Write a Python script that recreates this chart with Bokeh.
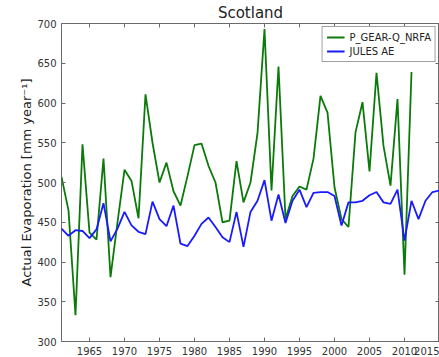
from bokeh.plotting import figure
from bokeh.models import ColumnDataSource, LinearAxis, FixedTicker, Range1d, Legend, LegendItem
from bokeh.embed import file_html
from bokeh.resources import INLINE

# Annual actual evaporation for Scotland (mm/year)
years_obs = list(range(1961, 2012))
p_gear_q_nrfa = [
    507, 465, 333, 548, 437, 428, 530, 381, 450, 516,
    502, 455, 611, 550, 500, 525, 489, 471, 508, 547,
    549, 521, 500, 450, 452, 527, 475, 500, 562, 693,
    490, 646, 454, 483, 495, 491, 530, 609, 588, 494,
    454, 444, 563, 601, 514, 638, 546, 496, 605, 384,
    639,
]

years_model = list(range(1961, 2016))
jules_ae = [
    442, 433, 440, 439, 430, 441, 474, 426, 442, 463,
    446, 438, 435, 476, 454, 445, 471, 423, 420, 433,
    448, 456, 444, 431, 425, 463, 419, 463, 477, 503,
    452, 485, 449, 477, 491, 469, 487, 488, 488, 483,
    446, 475, 475, 477, 484, 488, 475, 473, 491, 427,
    477, 454, 477, 488, 490,
]

x_ticks = [1965, 1970, 1975, 1980, 1985, 1990, 1995, 2000, 2005, 2010, 2015]
y_ticks = [300, 350, 400, 450, 500, 550, 600, 650, 700]

FONT = "DejaVu Sans"
EDGE = "#6a6a6a"

p = figure(
    width=439, height=357,
    output_backend="svg", toolbar_location=None,
    x_range=Range1d(1961, 2015), y_range=Range1d(300, 700),
    title="Scotland",
    min_border_left=61, min_border_right=0, min_border_top=0, min_border_bottom=0,
)

p.title.align = "center"
p.title.text_font = FONT
p.title.text_font_size = "15px"
p.title.text_font_style = "normal"
p.title.text_color = "#222222"
p.title.offset = 0
p.title.standoff = 3

p.outline_line_color = EDGE
p.outline_line_width = 1
p.grid.visible = False
p.background_fill_color = "white"
p.border_fill_color = "white"

src_obs = ColumnDataSource(dict(x=years_obs, y=p_gear_q_nrfa))
src_mod = ColumnDataSource(dict(x=years_model, y=jules_ae))

r_obs = p.line("x", "y", source=src_obs, line_color="#0a7a0a", line_width=1.8)
r_mod = p.line("x", "y", source=src_mod, line_color="#1a1aff", line_width=1.8)

for ax in (p.xaxis[0], p.yaxis[0]):
    ax.major_tick_in = 4
    ax.major_tick_out = 0
    ax.minor_tick_line_color = None
    ax.axis_line_color = None
    ax.major_tick_line_color = EDGE
    ax.major_label_text_font = FONT
    ax.major_label_text_font_size = "10px"
    ax.major_label_text_color = "#333333"

p.xaxis[0].ticker = FixedTicker(ticks=x_ticks)
p.yaxis[0].ticker = FixedTicker(ticks=y_ticks)
p.xaxis[0].major_label_standoff = 5
p.yaxis[0].major_label_standoff = 5

p.yaxis[0].axis_label = "Actual Evaporation [mm year\u207b\u00b9]"
p.yaxis[0].axis_label_text_font = FONT
p.yaxis[0].axis_label_text_font_size = "13px"
p.yaxis[0].axis_label_text_font_style = "normal"
p.yaxis[0].axis_label_text_color = "#222222"
p.yaxis[0].axis_label_standoff = 0

# Mirror ticks on the top and right edges (no labels)
top = LinearAxis(ticker=FixedTicker(ticks=x_ticks))
right = LinearAxis(ticker=FixedTicker(ticks=y_ticks))
for ax in (top, right):
    ax.major_tick_in = 4
    ax.major_tick_out = 0
    ax.minor_tick_line_color = None
    ax.axis_line_color = None
    ax.major_tick_line_color = EDGE
    ax.major_label_text_color = None
    ax.major_label_text_font_size = "1px"
    ax.major_label_standoff = 0
p.add_layout(top, "above")
p.add_layout(right, "right")

legend = Legend(items=[
    LegendItem(label="P_GEAR-Q_NRFA", renderers=[r_obs]),
    LegendItem(label="JULES AE", renderers=[r_mod]),
])
legend.location = "top_right"
legend.label_text_font = FONT
legend.label_text_font_size = "10px"
legend.label_text_color = "#222222"
legend.label_height = 12
legend.glyph_height = 12
legend.glyph_width = 18
legend.spacing = 2
legend.padding = 4
legend.margin = 3
legend.border_line_color = "#444444"
legend.border_line_width = 1
legend.background_fill_alpha = 1.0
p.add_layout(legend)

open("out.html", "w").write(file_html(p, INLINE))
